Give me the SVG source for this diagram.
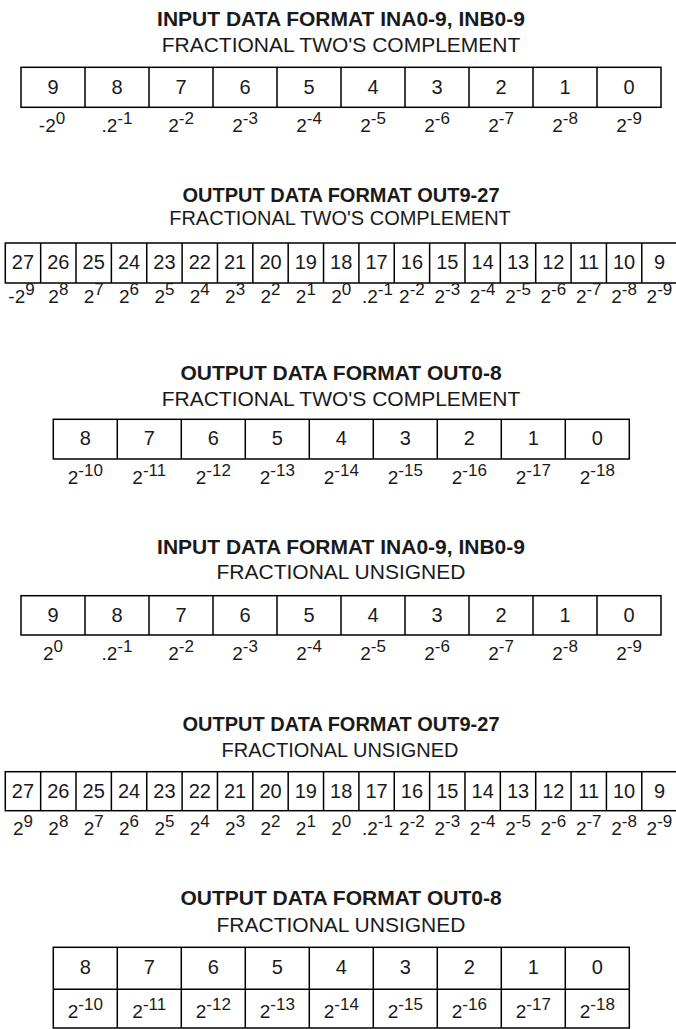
<svg xmlns="http://www.w3.org/2000/svg" width="676" height="1029" viewBox="0 0 676 1029">
<style>
text{font-family:"Liberation Sans",Arial,sans-serif;fill:#1a1a1a}
.t{font-size:21px;font-weight:bold;text-anchor:middle}
.s{font-size:21px;text-anchor:middle}
.t2{font-size:20px;font-weight:bold;text-anchor:middle}
.s2{font-size:20px;text-anchor:middle}
.d{font-size:20px;text-anchor:middle}
.p{font-size:19px;text-anchor:middle}
.e{font-size:17px}
.b{fill:none;stroke:#000;stroke-width:1.5}
</style>
<rect width="676" height="1029" fill="#fff"/>

<g id="table1">
<text class="t" x="341" y="26">INPUT DATA FORMAT INA0-9, INB0-9</text>
<text class="s" x="341" y="52.3">FRACTIONAL TWO'S COMPLEMENT</text>
<rect class="b" x="21" y="67.3" width="640" height="40"/>
<path class="b" d="M85 67.3V107.3M149 67.3V107.3M213 67.3V107.3M277 67.3V107.3M341 67.3V107.3M405 67.3V107.3M469 67.3V107.3M533 67.3V107.3M597 67.3V107.3"/>
<g class="d">
<text class="d" x="53" y="94">9</text><text class="d" x="117" y="94">8</text><text class="d" x="181" y="94">7</text><text class="d" x="245" y="94">6</text><text class="d" x="309" y="94">5</text><text class="d" x="373" y="94">4</text><text class="d" x="437" y="94">3</text><text class="d" x="501" y="94">2</text><text class="d" x="565" y="94">1</text><text class="d" x="629" y="94">0</text>
</g>
<text class="p" x="52" y="132">-2<tspan class="e" dy="-8">0</tspan></text>
<text class="p" x="117" y="132">.2<tspan class="e" dy="-8">-1</tspan></text>
<text class="p" x="181" y="132">2<tspan class="e" dy="-8">-2</tspan></text>
<text class="p" x="245" y="132">2<tspan class="e" dy="-8">-3</tspan></text>
<text class="p" x="309" y="132">2<tspan class="e" dy="-8">-4</tspan></text>
<text class="p" x="373" y="132">2<tspan class="e" dy="-8">-5</tspan></text>
<text class="p" x="437" y="132">2<tspan class="e" dy="-8">-6</tspan></text>
<text class="p" x="501" y="132">2<tspan class="e" dy="-8">-7</tspan></text>
<text class="p" x="565" y="132">2<tspan class="e" dy="-8">-8</tspan></text>
<text class="p" x="629" y="132">2<tspan class="e" dy="-8">-9</tspan></text>
</g>

<g id="table2">
<text class="t2" x="341" y="202">OUTPUT DATA FORMAT OUT9-27</text>
<text class="s2" x="340" y="225">FRACTIONAL TWO'S COMPLEMENT</text>
<rect class="b" x="5.3" y="243" width="671.84" height="40"/>
<path class="b" d="M40.66 243V283M76.02 243V283M111.38 243V283M146.74 243V283M182.1 243V283M217.46 243V283M252.82 243V283M288.18 243V283M323.54 243V283M358.9 243V283M394.26 243V283M429.62 243V283M464.98 243V283M500.34 243V283M535.7 243V283M571.06 243V283M606.42 243V283M641.78 243V283"/>
<text class="d" x="22.98" y="268.5">27</text><text class="d" x="58.34" y="268.5">26</text><text class="d" x="93.7" y="268.5">25</text><text class="d" x="129.06" y="268.5">24</text><text class="d" x="164.42" y="268.5">23</text><text class="d" x="199.78" y="268.5">22</text><text class="d" x="235.14" y="268.5">21</text><text class="d" x="270.5" y="268.5">20</text><text class="d" x="305.86" y="268.5">19</text><text class="d" x="341.22" y="268.5">18</text><text class="d" x="376.58" y="268.5">17</text><text class="d" x="411.94" y="268.5">16</text><text class="d" x="447.3" y="268.5">15</text><text class="d" x="482.66" y="268.5">14</text><text class="d" x="518.02" y="268.5">13</text><text class="d" x="553.38" y="268.5">12</text><text class="d" x="588.74" y="268.5">11</text><text class="d" x="624.1" y="268.5">10</text><text class="d" x="659.46" y="268.5">9</text>
<text class="p" x="21.5" y="303">-2<tspan class="e" dy="-8">9</tspan></text>
<text class="p" x="58.34" y="303">2<tspan class="e" dy="-8">8</tspan></text>
<text class="p" x="93.7" y="303">2<tspan class="e" dy="-8">7</tspan></text>
<text class="p" x="129.06" y="303">2<tspan class="e" dy="-8">6</tspan></text>
<text class="p" x="164.42" y="303">2<tspan class="e" dy="-8">5</tspan></text>
<text class="p" x="199.78" y="303">2<tspan class="e" dy="-8">4</tspan></text>
<text class="p" x="235.14" y="303">2<tspan class="e" dy="-8">3</tspan></text>
<text class="p" x="270.5" y="303">2<tspan class="e" dy="-8">2</tspan></text>
<text class="p" x="305.86" y="303">2<tspan class="e" dy="-8">1</tspan></text>
<text class="p" x="341.22" y="303">2<tspan class="e" dy="-8">0</tspan></text>
<text class="p" x="377.5" y="303">.2<tspan class="e" dy="-8">-1</tspan></text>
<text class="p" x="411.94" y="303">2<tspan class="e" dy="-8">-2</tspan></text>
<text class="p" x="447.3" y="303">2<tspan class="e" dy="-8">-3</tspan></text>
<text class="p" x="482.66" y="303">2<tspan class="e" dy="-8">-4</tspan></text>
<text class="p" x="518.02" y="303">2<tspan class="e" dy="-8">-5</tspan></text>
<text class="p" x="553.38" y="303">2<tspan class="e" dy="-8">-6</tspan></text>
<text class="p" x="588.74" y="303">2<tspan class="e" dy="-8">-7</tspan></text>
<text class="p" x="624.1" y="303">2<tspan class="e" dy="-8">-8</tspan></text>
<text class="p" x="659.46" y="303">2<tspan class="e" dy="-8">-9</tspan></text>
</g>

<g id="table3">
<text class="t" x="341" y="380">OUTPUT DATA FORMAT OUT0-8</text>
<text class="s" x="341" y="405.7">FRACTIONAL TWO'S COMPLEMENT</text>
<rect class="b" x="53.3" y="419.3" width="576" height="39.7"/>
<path class="b" d="M117.3 419.3V459M181.3 419.3V459M245.3 419.3V459M309.3 419.3V459M373.3 419.3V459M437.3 419.3V459M501.3 419.3V459M565.3 419.3V459"/>
<text class="d" x="85.3" y="444.5">8</text><text class="d" x="149.3" y="444.5">7</text><text class="d" x="213.3" y="444.5">6</text><text class="d" x="277.3" y="444.5">5</text><text class="d" x="341.3" y="444.5">4</text><text class="d" x="405.3" y="444.5">3</text><text class="d" x="469.3" y="444.5">2</text><text class="d" x="533.3" y="444.5">1</text><text class="d" x="597.3" y="444.5">0</text>
<text class="p" x="85.3" y="484">2<tspan class="e" dy="-8">-10</tspan></text>
<text class="p" x="149.3" y="484">2<tspan class="e" dy="-8">-11</tspan></text>
<text class="p" x="213.3" y="484">2<tspan class="e" dy="-8">-12</tspan></text>
<text class="p" x="277.3" y="484">2<tspan class="e" dy="-8">-13</tspan></text>
<text class="p" x="341.3" y="484">2<tspan class="e" dy="-8">-14</tspan></text>
<text class="p" x="405.3" y="484">2<tspan class="e" dy="-8">-15</tspan></text>
<text class="p" x="469.3" y="484">2<tspan class="e" dy="-8">-16</tspan></text>
<text class="p" x="533.3" y="484">2<tspan class="e" dy="-8">-17</tspan></text>
<text class="p" x="597.3" y="484">2<tspan class="e" dy="-8">-18</tspan></text>
</g>

<g id="table4">
<text class="t" x="341" y="554.3">INPUT DATA FORMAT INA0-9, INB0-9</text>
<text class="s" x="341" y="579">FRACTIONAL UNSIGNED</text>
<rect class="b" x="21" y="595.7" width="640" height="39.3"/>
<path class="b" d="M85 595.7V635M149 595.7V635M213 595.7V635M277 595.7V635M341 595.7V635M405 595.7V635M469 595.7V635M533 595.7V635M597 595.7V635"/>
<text class="d" x="53" y="621.5">9</text><text class="d" x="117" y="621.5">8</text><text class="d" x="181" y="621.5">7</text><text class="d" x="245" y="621.5">6</text><text class="d" x="309" y="621.5">5</text><text class="d" x="373" y="621.5">4</text><text class="d" x="437" y="621.5">3</text><text class="d" x="501" y="621.5">2</text><text class="d" x="565" y="621.5">1</text><text class="d" x="629" y="621.5">0</text>
<text class="p" x="53" y="660">2<tspan class="e" dy="-8">0</tspan></text>
<text class="p" x="117" y="660">.2<tspan class="e" dy="-8">-1</tspan></text>
<text class="p" x="181" y="660">2<tspan class="e" dy="-8">-2</tspan></text>
<text class="p" x="245" y="660">2<tspan class="e" dy="-8">-3</tspan></text>
<text class="p" x="309" y="660">2<tspan class="e" dy="-8">-4</tspan></text>
<text class="p" x="373" y="660">2<tspan class="e" dy="-8">-5</tspan></text>
<text class="p" x="437" y="660">2<tspan class="e" dy="-8">-6</tspan></text>
<text class="p" x="501" y="660">2<tspan class="e" dy="-8">-7</tspan></text>
<text class="p" x="565" y="660">2<tspan class="e" dy="-8">-8</tspan></text>
<text class="p" x="629" y="660">2<tspan class="e" dy="-8">-9</tspan></text>
</g>

<g id="table5">
<text class="t2" x="341" y="731">OUTPUT DATA FORMAT OUT9-27</text>
<text class="s2" x="340" y="756.7">FRACTIONAL UNSIGNED</text>
<rect class="b" x="5.3" y="771.7" width="671.84" height="39"/>
<path class="b" d="M40.66 771.7V810.7M76.02 771.7V810.7M111.38 771.7V810.7M146.74 771.7V810.7M182.1 771.7V810.7M217.46 771.7V810.7M252.82 771.7V810.7M288.18 771.7V810.7M323.54 771.7V810.7M358.9 771.7V810.7M394.26 771.7V810.7M429.62 771.7V810.7M464.98 771.7V810.7M500.34 771.7V810.7M535.7 771.7V810.7M571.06 771.7V810.7M606.42 771.7V810.7M641.78 771.7V810.7"/>
<text class="d" x="22.98" y="797.7">27</text><text class="d" x="58.34" y="797.7">26</text><text class="d" x="93.7" y="797.7">25</text><text class="d" x="129.06" y="797.7">24</text><text class="d" x="164.42" y="797.7">23</text><text class="d" x="199.78" y="797.7">22</text><text class="d" x="235.14" y="797.7">21</text><text class="d" x="270.5" y="797.7">20</text><text class="d" x="305.86" y="797.7">19</text><text class="d" x="341.22" y="797.7">18</text><text class="d" x="376.58" y="797.7">17</text><text class="d" x="411.94" y="797.7">16</text><text class="d" x="447.3" y="797.7">15</text><text class="d" x="482.66" y="797.7">14</text><text class="d" x="518.02" y="797.7">13</text><text class="d" x="553.38" y="797.7">12</text><text class="d" x="588.74" y="797.7">11</text><text class="d" x="624.1" y="797.7">10</text><text class="d" x="659.46" y="797.7">9</text>
<text class="p" x="22.98" y="835">2<tspan class="e" dy="-8">9</tspan></text>
<text class="p" x="58.34" y="835">2<tspan class="e" dy="-8">8</tspan></text>
<text class="p" x="93.7" y="835">2<tspan class="e" dy="-8">7</tspan></text>
<text class="p" x="129.06" y="835">2<tspan class="e" dy="-8">6</tspan></text>
<text class="p" x="164.42" y="835">2<tspan class="e" dy="-8">5</tspan></text>
<text class="p" x="199.78" y="835">2<tspan class="e" dy="-8">4</tspan></text>
<text class="p" x="235.14" y="835">2<tspan class="e" dy="-8">3</tspan></text>
<text class="p" x="270.5" y="835">2<tspan class="e" dy="-8">2</tspan></text>
<text class="p" x="305.86" y="835">2<tspan class="e" dy="-8">1</tspan></text>
<text class="p" x="341.22" y="835">2<tspan class="e" dy="-8">0</tspan></text>
<text class="p" x="377.5" y="835">.2<tspan class="e" dy="-8">-1</tspan></text>
<text class="p" x="411.94" y="835">2<tspan class="e" dy="-8">-2</tspan></text>
<text class="p" x="447.3" y="835">2<tspan class="e" dy="-8">-3</tspan></text>
<text class="p" x="482.66" y="835">2<tspan class="e" dy="-8">-4</tspan></text>
<text class="p" x="518.02" y="835">2<tspan class="e" dy="-8">-5</tspan></text>
<text class="p" x="553.38" y="835">2<tspan class="e" dy="-8">-6</tspan></text>
<text class="p" x="588.74" y="835">2<tspan class="e" dy="-8">-7</tspan></text>
<text class="p" x="624.1" y="835">2<tspan class="e" dy="-8">-8</tspan></text>
<text class="p" x="659.46" y="835">2<tspan class="e" dy="-8">-9</tspan></text>
</g>

<g id="table6">
<text class="t" x="341" y="905">OUTPUT DATA FORMAT OUT0-8</text>
<text class="s" x="341" y="931.7">FRACTIONAL UNSIGNED</text>
<rect class="b" x="53.3" y="947.3" width="576" height="80.7"/>
<path class="b" d="M53.3 989.3H629.3M117.3 947.3V1028M181.3 947.3V1028M245.3 947.3V1028M309.3 947.3V1028M373.3 947.3V1028M437.3 947.3V1028M501.3 947.3V1028M565.3 947.3V1028"/>
<text class="d" x="85.3" y="974.3">8</text><text class="d" x="149.3" y="974.3">7</text><text class="d" x="213.3" y="974.3">6</text><text class="d" x="277.3" y="974.3">5</text><text class="d" x="341.3" y="974.3">4</text><text class="d" x="405.3" y="974.3">3</text><text class="d" x="469.3" y="974.3">2</text><text class="d" x="533.3" y="974.3">1</text><text class="d" x="597.3" y="974.3">0</text>
<text class="p" x="85.3" y="1018.3">2<tspan class="e" dy="-8">-10</tspan></text>
<text class="p" x="149.3" y="1018.3">2<tspan class="e" dy="-8">-11</tspan></text>
<text class="p" x="213.3" y="1018.3">2<tspan class="e" dy="-8">-12</tspan></text>
<text class="p" x="277.3" y="1018.3">2<tspan class="e" dy="-8">-13</tspan></text>
<text class="p" x="341.3" y="1018.3">2<tspan class="e" dy="-8">-14</tspan></text>
<text class="p" x="405.3" y="1018.3">2<tspan class="e" dy="-8">-15</tspan></text>
<text class="p" x="469.3" y="1018.3">2<tspan class="e" dy="-8">-16</tspan></text>
<text class="p" x="533.3" y="1018.3">2<tspan class="e" dy="-8">-17</tspan></text>
<text class="p" x="597.3" y="1018.3">2<tspan class="e" dy="-8">-18</tspan></text>
</g>
</svg>
